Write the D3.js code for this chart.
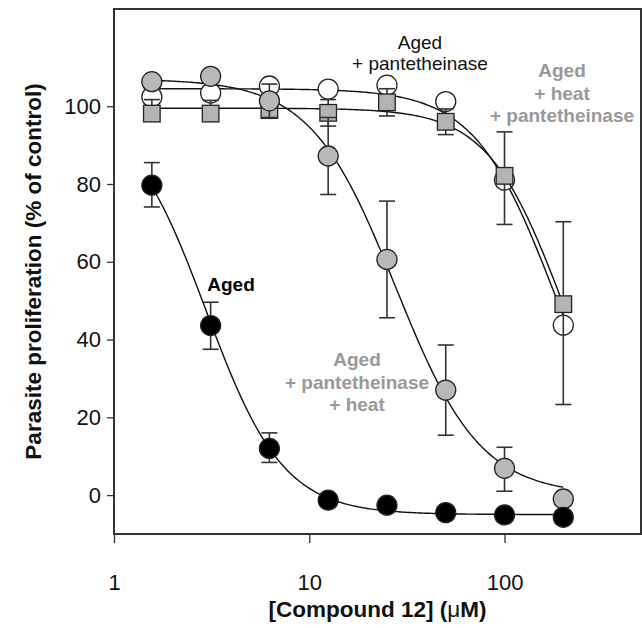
<!DOCTYPE html>
<html>
<head>
<meta charset="utf-8">
<script src="https://cdn.jsdelivr.net/npm/d3@7"></script>
<style>
  html, body { margin: 0; padding: 0; background: #fff; }
  svg { display: block; font-family: "Liberation Sans", Arial, sans-serif; }
</style>
</head>
<body>
<svg id="chart" width="642" height="628"></svg>
<script>
// ---- data ----
const conc = [1.5625, 3.125, 6.25, 12.5, 25, 50, 100, 200];

// Aged + pantetheinase (open circles)
const agedPantValues  = [102.4, 103.4, 105.2, 104.4, 105.4, 101.2, 81.0, 43.7];
const agedPantErrUp   = [1.5, 1.5, 1.0, 1.5, 1.0, 1.0, 0, 0];
const agedPantErrDown = [1.5, 1.5, 1.0, 1.5, 1.0, 1.0, 0, 0];

// Aged + heat + pantetheinase (grey squares)
const agedHeatPantValues  = [98.1, 98.1, 99.0, 98.3, 101.0, 96.0, 82.1, 49.1];
const agedHeatPantErrUp   = [3.6, 3.4, 2.0, 3.4, 3.5, 3.3, 11.3, 21.2];
const agedHeatPantErrDown = [1.5, 1.5, 2.0, 3.4, 3.5, 3.3, 12.5, 25.8];

// Aged + pantetheinase + heat (grey circles)
const agedPantHeatValues  = [106.3, 107.7, 101.4, 87.2, 60.6, 27.0, 6.9, -1.0];
const agedPantHeatErrUp   = [1.0, 1.0, 4.3, 9.9, 15.0, 11.6, 5.4, 1.0];
const agedPantHeatErrDown = [1.0, 1.0, 4.3, 9.9, 15.0, 11.6, 5.9, 1.0];

// Aged (black circles)
const agedValues  = [79.7, 43.6, 12.0, -1.3, -2.6, -4.5, -5.1, -5.7];
const agedErrUp   = [5.8, 6.0, 4.0, 0.5, 0.5, 0.5, 0.5, 0.5];
const agedErrDown = [5.6, 6.1, 3.6, 0.5, 0.5, 0.5, 0.5, 0.5];

// fitted dose-response curve parameters (top, bottom, IC50, Hill slope)
const fitTop    = [104.5, 99.5, 107.0, 100.0];
const fitBottom = [0.0, 0.0, 0.0, -5.0];
const fitIC50   = [179, 197.6, 27.7, 2.96];
const fitHill   = [2.13, 2.27, 2.0, 2.2];

const yTicks = [0, 20, 40, 60, 80, 100];
const xTicks = [1, 10, 100];
const xTickLabels = ["1", "10", "100"];

(function () {
// ---- layout ----
const pl = 114, pr = 641, pt = 9, pb = 534;
const svg = d3.select("#chart");

const x = d3.scaleLog().domain([1, 500]).range([pl, pr]);
const y = d3.scaleLinear().domain([-10, 125]).range([pb, pt]);

// axes
const yAxis = d3.axisLeft(y).tickValues(yTicks).tickSize(7).tickPadding(6).tickFormat(d3.format("d"));
const gy = svg.append("g").attr("transform", `translate(${pl},0)`).call(yAxis);
gy.select(".domain").remove();
gy.selectAll("line").attr("stroke", "#333").attr("stroke-width", 1.3);
gy.selectAll("text").attr("font-size", 22).attr("fill", "#111")
  .attr("font-family", "Liberation Sans, Arial, sans-serif");

const xAxis = d3.axisBottom(x).tickValues(xTicks).tickSize(9).tickPadding(31)
  .tickFormat((d, i) => xTickLabels[i]);
const gx = svg.append("g").attr("transform", `translate(0,${pb})`).call(xAxis);
gx.select(".domain").remove();
gx.selectAll("line").attr("stroke", "#333").attr("stroke-width", 1.3);
gx.selectAll("text").attr("font-size", 22).attr("fill", "#111")
  .attr("font-family", "Liberation Sans, Arial, sans-serif");

// frame
svg.append("rect").attr("x", pl).attr("y", pt)
  .attr("width", pr - pl).attr("height", pb - pt)
  .attr("fill", "none").attr("stroke", "#333").attr("stroke-width", 2);

// axis titles
svg.append("text")
  .attr("transform", `translate(35,${(pt + pb) / 2}) rotate(-90)`)
  .attr("text-anchor", "middle").attr("dominant-baseline", "middle")
  .attr("font-size", 22.5).attr("font-weight", "bold").attr("fill", "#111")
  .text("Parasite proliferation (% of control)");

const xt = svg.append("text")
  .attr("x", (pl + pr) / 2).attr("y", 617)
  .attr("text-anchor", "middle")
  .attr("font-size", 22.5).attr("font-weight", "bold").attr("fill", "#111");
xt.append("tspan").text("[Compound 12] (");
xt.append("tspan").attr("font-weight", "normal").text("μ");
xt.append("tspan").text("M)");

// ---- series ----
const series = [
  { values: agedPantValues, up: agedPantErrUp, down: agedPantErrDown, shape: "circle", fill: "#ffffff", fit: 0 },
  { values: agedHeatPantValues, up: agedHeatPantErrUp, down: agedHeatPantErrDown, shape: "square", fill: "#b3b3b3", fit: 1 },
  { values: agedPantHeatValues, up: agedPantHeatErrUp, down: agedPantHeatErrDown, shape: "circle", fill: "#b8b8b8", fit: 2 },
  { values: agedValues, up: agedErrUp, down: agedErrDown, shape: "circle", fill: "#000000", fit: 3 }
];

const logMin = Math.log10(conc[0]), logMax = Math.log10(conc[conc.length - 1]);
const samples = d3.range(0, 201).map(i => Math.pow(10, logMin + (logMax - logMin) * i / 200));
const line = d3.line().x(d => x(d[0])).y(d => y(d[1]));
const capW = 8;

series.forEach(s => {
  const g = svg.append("g");
  const k = s.fit;
  const curve = samples.map(c => [c, fitBottom[k] + (fitTop[k] - fitBottom[k]) / (1 + Math.pow(c / fitIC50[k], fitHill[k]))]);
  g.append("path").attr("d", line(curve)).attr("fill", "none")
    .attr("stroke", "#111").attr("stroke-width", 1.4);

  const pts = conc.map((c, i) => ({ c, v: s.values[i], u: s.up[i], d: s.down[i] }))
    .filter(p => p.u > 0 || p.d > 0);
  const eb = g.selectAll(".eb").data(pts).enter().append("g");
  eb.append("line").attr("x1", d => x(d.c)).attr("x2", d => x(d.c))
    .attr("y1", d => y(d.v - d.d)).attr("y2", d => y(d.v + d.u))
    .attr("stroke", "#333").attr("stroke-width", 1.6);
  eb.append("line").attr("x1", d => x(d.c) - capW).attr("x2", d => x(d.c) + capW)
    .attr("y1", d => y(d.v + d.u)).attr("y2", d => y(d.v + d.u))
    .attr("stroke", "#333").attr("stroke-width", 1.6);
  eb.append("line").attr("x1", d => x(d.c) - capW).attr("x2", d => x(d.c) + capW)
    .attr("y1", d => y(d.v - d.d)).attr("y2", d => y(d.v - d.d))
    .attr("stroke", "#333").attr("stroke-width", 1.6);

  const all = conc.map((c, i) => ({ c, v: s.values[i] }));
  if (s.shape === "circle") {
    g.selectAll(".m").data(all).enter().append("circle")
      .attr("cx", d => x(d.c)).attr("cy", d => y(d.v)).attr("r", 10)
      .attr("fill", s.fill).attr("stroke", "#222").attr("stroke-width", 1.3);
  } else {
    const h = 8.3;
    g.selectAll(".m").data(all).enter().append("rect")
      .attr("x", d => x(d.c) - h).attr("y", d => y(d.v) - h)
      .attr("width", 2 * h).attr("height", 2 * h)
      .attr("fill", s.fill).attr("stroke", "#222").attr("stroke-width", 1.3);
  }
});

// ---- annotations ----
function label(lines, cx, cy0, dy, color, weight) {
  const t = svg.append("text").attr("text-anchor", "middle")
    .attr("font-size", 19).attr("font-weight", weight).attr("fill", color);
  lines.forEach((l, i) => t.append("tspan").attr("x", cx).attr("y", cy0 + i * dy).text(l));
}
label(["Aged", "+ pantetheinase"], 420, 49, 21, "#111", "normal");
label(["Aged", "+ heat", "+ pantetheinase"], 562, 77, 22.5, "#999999", "bold");
label(["Aged"], 231, 291, 0, "#000", "bold");
label(["Aged", "+ pantetheinase", "+ heat"], 357, 366, 22.5, "#999999", "bold");
})();
</script>
</body>
</html>
